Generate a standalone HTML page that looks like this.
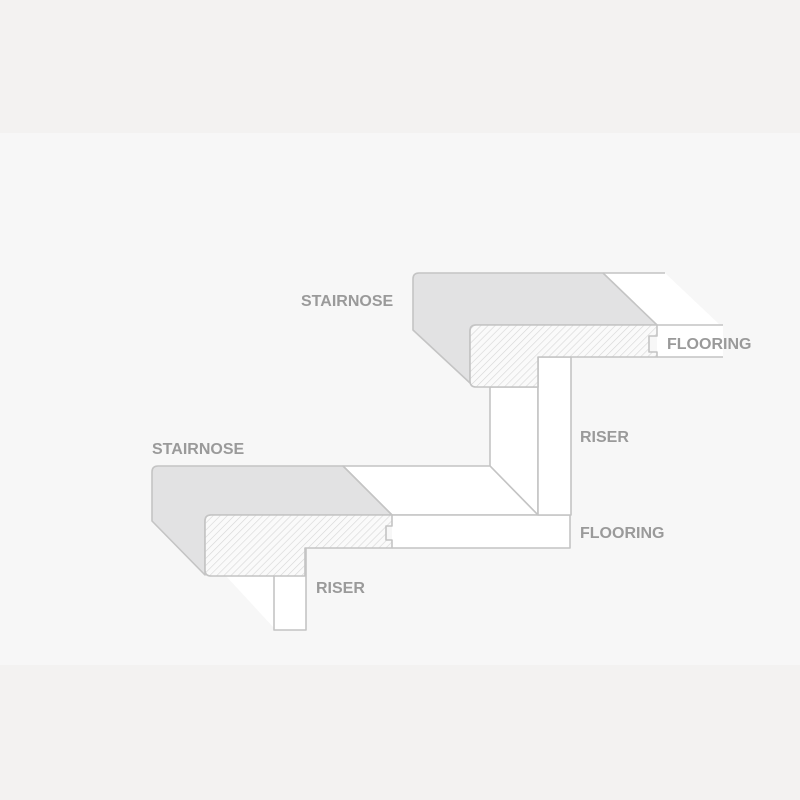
<!DOCTYPE html>
<html><head><style>
html,body{margin:0;padding:0;background:#f2f2f1;}
svg{display:block}
text{font-family:"Liberation Sans",sans-serif;font-size:16px;font-weight:bold;fill:#9a9a9a;}
</style></head><body>
<svg width="800" height="800" viewBox="0 0 800 800" xmlns="http://www.w3.org/2000/svg">
<defs>
<pattern id="h" width="5" height="5" patternUnits="userSpaceOnUse" patternTransform="rotate(45)">
<rect width="5" height="5" fill="#fafafa"/>
<line x1="0" y1="0" x2="0" y2="5" stroke="#d6d6d6" stroke-width="1.2"/>
</pattern>
</defs>
<rect x="0" y="0" width="800" height="133" fill="#f3f2f1"/>
<rect x="0" y="133" width="800" height="532" fill="#f7f7f7"/>
<rect x="0" y="665" width="800" height="135" fill="#f3f2f1"/>
<g stroke="#c4c4c4" stroke-width="1.6" stroke-linejoin="round">
<!-- lower riser -->
<polygon points="226,576 274,576 274,628" fill="#fff" stroke="none"/>
<rect x="274" y="548" width="32" height="82" fill="#fff"/>
<!-- upper riser side + lower flooring top -->
<polygon points="490,387 538,387 538,515 490,466" fill="#fff"/>
<polygon points="343,466 490,466 538,515 392,515" fill="#fff"/>
<rect x="392" y="515" width="178" height="33" fill="#fff" stroke="none"/>
<path d="M392,515 L570,515 L570,548 L392,548" fill="none"/>
<rect x="538" y="357" width="33" height="158" fill="#fff"/>
<!-- upper flooring -->
<polygon points="603,273 665,273 720,325 657,325" fill="#fff" stroke="none"/>
<path d="M603,273 L665,273" fill="none"/>
<rect x="657" y="325" width="66" height="32" fill="#fff" stroke="none"/>
<path d="M657,325 L723,325 M657,357 L723,357" fill="none"/>
<!-- upper stairnose -->
<path d="M419,273 L603,273 L657,325 L476,325 Q470,325 470,331 L470,383 L413,330 L413,279 Q413,273 419,273 Z" fill="#e2e2e3"/>
<path d="M476,325 L657,325 L657,336 L649,336 L649,352 L657,352 L657,357 L538,357 L538,387 L476,387 Q470,387 470,381 L470,331 Q470,325 476,325 Z" fill="url(#h)"/>
<!-- lower stairnose -->
<path d="M158,466 L343,466 L392,515 L211,515 Q205,515 205,521 L205,575 L152,521 L152,472 Q152,466 158,466 Z" fill="#e2e2e3"/>
<path d="M211,515 L392,515 L392,526 L386,526 L386,540 L392,540 L392,548 L305,548 L305,576 L211,576 Q205,576 205,570 L205,521 Q205,515 211,515 Z" fill="url(#h)"/>
</g>
<text x="301" y="306">STAIRNOSE</text>
<text x="667" y="349">FLOORING</text>
<text x="580" y="442">RISER</text>
<text x="152" y="454">STAIRNOSE</text>
<text x="580" y="538">FLOORING</text>
<text x="316" y="593">RISER</text>
</svg>
</body></html>
